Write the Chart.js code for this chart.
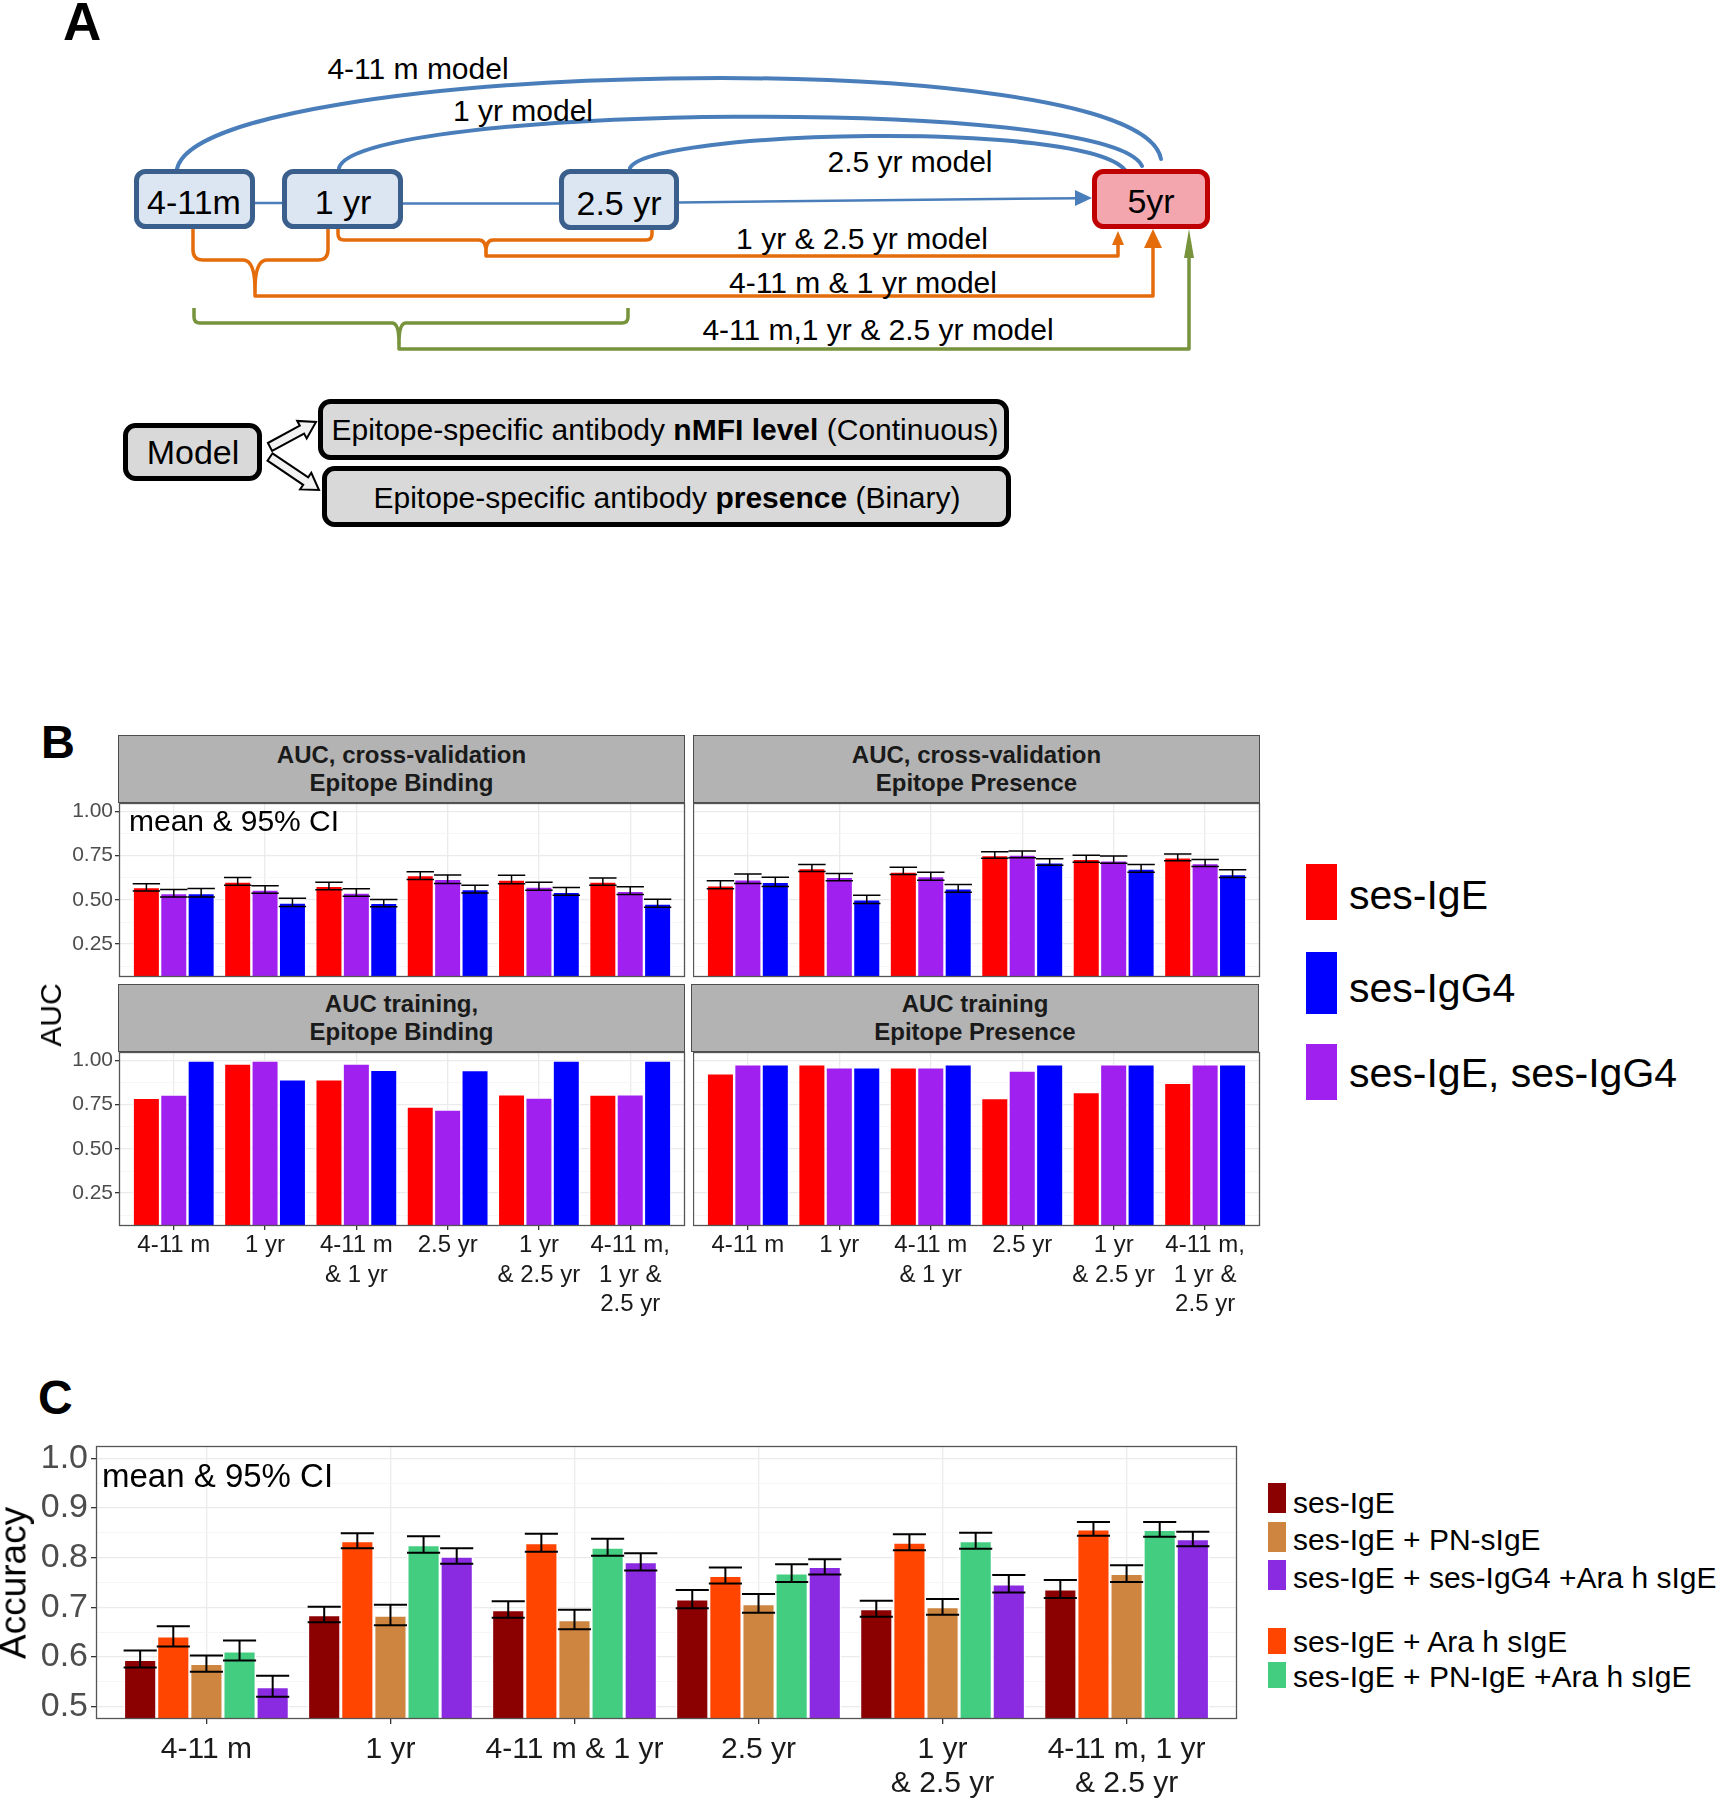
<!DOCTYPE html>
<html lang="en">
<head>
<meta charset="utf-8">
<title>Epitope models: AUC and accuracy</title>
<script src="https://cdn.jsdelivr.net/npm/chart.js@4.4.1/dist/chart.umd.min.js"></script>
<style>
  html, body { margin: 0; padding: 0; background: #fff; }
  body { position: relative; width: 1723px; height: 1800px; overflow: hidden;
         font-family: "Liberation Sans", Arial, sans-serif; color: #000; }
  .abs { position: absolute; white-space: nowrap; line-height: 1; }
  .mid { transform: translateY(-50%); }
  .tag { font-weight: bold; }
  .vlab { position: absolute; white-space: nowrap; line-height: 1; transform: translate(-50%, -50%) rotate(-90deg); }
  .strip { position: absolute; box-sizing: border-box; background: #B3B3B3; border: 1.5px solid #4D4D4D;
           display: flex; flex-direction: column; justify-content: center; align-items: center;
           font-weight: bold; font-size: 24px; line-height: 28px; color: #1A1A1A; }
  canvas { position: absolute; }
  .sw { position: absolute; }
</style>
</head>
<body>

<!-- Panel A: model diagram -->
<svg id="diagram" class="abs" style="left:0;top:0" width="1723" height="560" xmlns="http://www.w3.org/2000/svg"
     font-family="Liberation Sans, Arial, sans-serif">
  <g fill="none" stroke="#4A7EBB" stroke-width="4" stroke-linecap="round">
    <path d="M177,169 C200,60 1140,40 1161,159"/>
    <path d="M339,168 C355,105 1110,95 1142,166"/>
    <path d="M630,168 C650,130 1085,120 1125,170"/>
  </g>
  <g stroke="#4A7EBB" stroke-width="2.5">
    <line x1="255" y1="203" x2="282" y2="203"/>
    <line x1="403" y1="203.5" x2="559" y2="203.5"/>
    <line x1="679" y1="202.5" x2="1078" y2="198.2"/>
  </g>
  <polygon fill="#4A7EBB" points="1092,198 1075,190 1075,206"/>

  <g fill="none" stroke="#E46C0A" stroke-width="3.5" stroke-linejoin="round">
    <path d="M193,229 V250 Q193,260 203,260 H243 Q255,260 255,290 Q255,260 267,260 H318 Q328,260 328,250 V228"/>
    <path d="M255,290 V296 H1153 V244"/>
    <path d="M338,229 V234 Q338,240 344,240 H479 Q486,240 486,252 Q486,240 493,240 H646 Q652,240 652,234 V229"/>
    <path d="M486,252 V256 H1118 V243"/>
  </g>
  <polygon fill="#E46C0A" points="1118,231 1112,245 1124,245"/>
  <polygon fill="#E46C0A" points="1153,229 1144,248 1162,248"/>
  <g fill="none" stroke="#77933C" stroke-width="3.5" stroke-linejoin="round">
    <path d="M194,308 V317 Q194,323 200,323 H392 Q399,323 399,343 Q399,323 406,323 H622 Q628,323 628,317 V308"/>
    <path d="M399,343 V349 H1189 V255"/>
  </g>
  <polygon fill="#77933C" points="1189,229 1184,258 1194,258"/>

  <g stroke="#3B5F8C" stroke-width="5" fill="#DCE6F2">
    <rect x="136.5" y="171.5" width="116" height="55" rx="9"/>
    <rect x="284.5" y="171.5" width="116" height="55" rx="9"/>
    <rect x="561.5" y="171.5" width="115" height="56" rx="9"/>
  </g>
  <rect x="1094.5" y="171.5" width="113" height="55" rx="9" fill="#F4A6AE" stroke="#C00000" stroke-width="5"/>

  <g font-size="34" text-anchor="middle" dominant-baseline="central" fill="#000">
    <text x="194" y="202">4-11m</text>
    <text x="343" y="202">1 yr</text>
    <text x="619" y="203">2.5 yr</text>
    <text x="1151" y="201">5yr</text>
  </g>
  <g font-size="30" text-anchor="middle" dominant-baseline="central" fill="#000">
    <text x="418" y="68">4-11 m model</text>
    <text x="523" y="110">1 yr model</text>
    <text x="910" y="161">2.5 yr model</text>
    <text x="862" y="238">1 yr &amp; 2.5 yr model</text>
    <text x="863" y="282">4-11 m &amp; 1 yr model</text>
    <text x="878" y="329">4-11 m,1 yr &amp; 2.5 yr model</text>
  </g>

  <g fill="#D9D9D9" stroke="#000" stroke-width="5">
    <rect x="125.5" y="425.5" width="134" height="53" rx="10"/>
    <rect x="320.5" y="401.5" width="686" height="56" rx="10"/>
    <rect x="324.5" y="468.5" width="684" height="56" rx="10"/>
  </g>
  <g id="hollow" fill="#F2F2F2" stroke="#000" stroke-width="2" stroke-linejoin="miter"></g>
  <g text-anchor="middle" dominant-baseline="central" fill="#000">
    <text x="193" y="452" font-size="34">Model</text>
    <text x="665" y="429" font-size="30">Epitope-specific antibody <tspan font-weight="bold">nMFI level</tspan> (Continuous)</text>
    <text x="667" y="497" font-size="30">Epitope-specific antibody <tspan font-weight="bold">presence</tspan> (Binary)</text>
  </g>
</svg>
<div class="abs tag" style="left:63px;top:-5px;font-size:53px">A</div>

<!-- Panel B: AUC facets -->
<div class="abs tag" style="left:41px;top:718px;font-size:47px">B</div>
<canvas id="cvBind"></canvas>
<canvas id="cvPres"></canvas>
<canvas id="trBind"></canvas>
<canvas id="trPres"></canvas>
<div class="strip" style="left:118px;top:735px;width:567px;height:68px"><div>AUC, cross-validation</div><div>Epitope Binding</div></div>
<div class="strip" style="left:693px;top:735px;width:567px;height:68px"><div>AUC, cross-validation</div><div>Epitope Presence</div></div>
<div class="strip" style="left:118px;top:984px;width:567px;height:68px"><div>AUC training,</div><div>Epitope Binding</div></div>
<div class="strip" style="left:691px;top:984px;width:568px;height:68px"><div>AUC training</div><div>Epitope Presence</div></div>
<div class="abs mid" style="left:129px;top:821px;font-size:30px">mean &amp; 95% CI</div>
<div class="vlab" style="left:51px;top:1015px;font-size:30px">AUC</div>
<div id="legendB"></div>

<!-- Panel C: accuracy -->
<div class="abs tag" style="left:38px;top:1374px;font-size:48px">C</div>
<canvas id="accChart"></canvas>
<div class="abs mid" style="left:102px;top:1475px;font-size:33px">mean &amp; 95% CI</div>
<div class="vlab" style="left:13px;top:1583px;font-size:37px">Accuracy</div>
<div id="legendC"></div>

<script>
// --- DATA: panel B (AUC) ---
const groupsB = [['4-11 m'], ['1 yr'], ['4-11 m', '& 1 yr'], ['2.5 yr'], ['1 yr', '& 2.5 yr'], ['4-11 m,', '1 yr &', '2.5 yr']];
const namesB = ['ses-IgE', 'ses-IgE, ses-IgG4', 'ses-IgG4'];   // order of bars inside a group
const colorsB = ['#FF0000', '#A020F0', '#0000FF'];
const yTicksB = [0.25, 0.50, 0.75, 1.00];
const yMinorB = [0.125, 0.375, 0.625, 0.875];

// AUC, cross-validation, epitope binding (mean, lower, upper)
const cvBindIgE     = [0.572, 0.604, 0.580, 0.641, 0.615, 0.604];
const cvBindIgELo   = [0.550, 0.583, 0.557, 0.615, 0.591, 0.583];
const cvBindIgEHi   = [0.591, 0.626, 0.600, 0.659, 0.639, 0.624];
const cvBindBoth    = [0.539, 0.559, 0.541, 0.620, 0.576, 0.552];
const cvBindBothLo  = [0.517, 0.537, 0.520, 0.593, 0.554, 0.530];
const cvBindBothHi  = [0.559, 0.580, 0.563, 0.641, 0.600, 0.574];
const cvBindIgG4    = [0.539, 0.485, 0.483, 0.561, 0.546, 0.480];
const cvBindIgG4Lo  = [0.517, 0.463, 0.461, 0.539, 0.526, 0.459];
const cvBindIgG4Hi  = [0.565, 0.509, 0.502, 0.583, 0.570, 0.504];

// AUC, cross-validation, epitope presence
const cvPresIgE     = [0.583, 0.680, 0.661, 0.754, 0.733, 0.741];
const cvPresIgELo   = [0.563, 0.661, 0.643, 0.735, 0.713, 0.722];
const cvPresIgEHi   = [0.609, 0.700, 0.685, 0.772, 0.752, 0.759];
const cvPresBoth    = [0.617, 0.630, 0.635, 0.757, 0.724, 0.709];
const cvPresBothLo  = [0.593, 0.609, 0.611, 0.739, 0.707, 0.689];
const cvPresBothHi  = [0.646, 0.650, 0.657, 0.776, 0.748, 0.728];
const cvPresIgG4    = [0.602, 0.504, 0.565, 0.713, 0.678, 0.646];
const cvPresIgG4Lo  = [0.576, 0.480, 0.543, 0.696, 0.657, 0.626];
const cvPresIgG4Hi  = [0.628, 0.526, 0.587, 0.733, 0.700, 0.670];

// AUC training
const trBindIgE  = [0.789, 0.983, 0.893, 0.739, 0.809, 0.807];
const trBindBoth = [0.807, 1.000, 0.983, 0.722, 0.791, 0.809];
const trBindIgG4 = [1.000, 0.893, 0.948, 0.946, 1.000, 1.000];
const trPresIgE  = [0.928, 0.978, 0.961, 0.787, 0.822, 0.874];
const trPresBoth = [0.978, 0.961, 0.961, 0.943, 0.978, 0.978];
const trPresIgG4 = [0.978, 0.961, 0.978, 0.978, 0.978, 0.978];

// --- DATA: panel C (accuracy) ---
const groupsC = ['4-11 m', '1 yr', '4-11 m & 1 yr', '2.5 yr', ['1 yr', '& 2.5 yr'], ['4-11 m, 1 yr', '& 2.5 yr']];
const namesC = ['ses-IgE', 'ses-IgE + Ara h sIgE', 'ses-IgE + PN-sIgE', 'ses-IgE + PN-IgE +Ara h sIgE', 'ses-IgE + ses-IgG4 +Ara h sIgE'];
const colorsC = ['#8B0000', '#FF4500', '#CD853F', '#43CD80', '#8A2BE2'];
const legendOrderC = [0, 2, 4, 1, 3];
const yTicksC = [0.5, 0.6, 0.7, 0.8, 0.9, 1.0];
const yMinorC = [0.55, 0.65, 0.75, 0.85, 0.95];

const accIgE       = [0.595, 0.685, 0.695, 0.717, 0.697, 0.737];
const accIgELo     = [0.579, 0.670, 0.679, 0.698, 0.681, 0.719];
const accIgEHi     = [0.613, 0.701, 0.712, 0.735, 0.713, 0.755];
const accAra       = [0.642, 0.834, 0.830, 0.764, 0.831, 0.858];
const accAraLo     = [0.621, 0.819, 0.812, 0.748, 0.815, 0.844];
const accAraHi     = [0.662, 0.849, 0.848, 0.780, 0.847, 0.872];
const accPN        = [0.587, 0.684, 0.675, 0.707, 0.701, 0.768];
const accPNLo      = [0.570, 0.664, 0.656, 0.689, 0.685, 0.751];
const accPNHi      = [0.603, 0.705, 0.695, 0.727, 0.717, 0.785];
const accPNAra     = [0.612, 0.826, 0.821, 0.769, 0.834, 0.857];
const accPNAraLo   = [0.593, 0.810, 0.804, 0.751, 0.818, 0.842];
const accPNAraHi   = [0.633, 0.843, 0.838, 0.787, 0.850, 0.872];
const accIgG4Ara   = [0.540, 0.803, 0.792, 0.782, 0.747, 0.838];
const accIgG4AraLo = [0.520, 0.788, 0.774, 0.766, 0.730, 0.823];
const accIgG4AraHi = [0.562, 0.819, 0.809, 0.797, 0.765, 0.852];

// --- LAYOUT (plot areas, px) ---
const areas = {
    cvBind: {x: 119, y: 803, w: 566, h: 174},
    cvPres: {x: 693, y: 803, w: 567, h: 174},
    trBind: {x: 119, y: 1052, w: 566, h: 174},
    trPres: {x: 693, y: 1052, w: 567, h: 174},
    acc:    {x: 96, y: 1446, w: 1141, h: 273}
};

Chart.defaults.font.family = "'Liberation Sans', Arial, sans-serif";

// --- PLUGINS ---
const errorBars = {
    id: 'errorBars',
    afterDatasetsDraw(chart, args, opts) {
        const {ctx, chartArea: a, scales: {y}} = chart;
        ctx.save();
        ctx.beginPath();
        ctx.rect(a.left, a.top, a.width, a.height);
        ctx.clip();
        ctx.strokeStyle = '#000';
        ctx.lineWidth = opts.lineWidth;
        chart.data.datasets.forEach((ds, di) => {
            if (!ds.lo) return;
            chart.getDatasetMeta(di).data.forEach((bar, i) => {
                const half = bar.width / 2;
                const yl = y.getPixelForValue(ds.lo[i]);
                const yh = y.getPixelForValue(ds.hi[i]);
                ctx.beginPath();
                ctx.moveTo(bar.x, yl); ctx.lineTo(bar.x, yh);
                ctx.moveTo(bar.x - half, yl); ctx.lineTo(bar.x + half, yl);
                ctx.moveTo(bar.x - half, yh); ctx.lineTo(bar.x + half, yh);
                ctx.stroke();
            });
        });
        ctx.restore();
    }
};

const panelFrame = {
    id: 'panelFrame',
    afterDraw(chart) {
        const {ctx, chartArea: a} = chart;
        ctx.save();
        ctx.strokeStyle = '#555';
        ctx.lineWidth = 1.3;
        ctx.strokeRect(a.left + 0.5, a.top + 0.5, a.width - 1, a.height - 1);
        ctx.restore();
    }
};

// --- CHART BUILDER ---
function drawPanel(canvasId, area, o) {
    const cv = document.getElementById(canvasId);
    const w = o.yAxisW + area.w + o.padRight;
    const h = o.padTop + area.h + o.xAxisH + o.padBottom;
    cv.width = w; cv.height = h;
    cv.style.width = w + 'px'; cv.style.height = h + 'px';
    cv.style.left = (area.x - o.yAxisW) + 'px';
    cv.style.top = (area.y - o.padTop) + 'px';

    const key = v => v.toFixed(3);
    const major = new Set(o.yTicks.map(key));
    const isMajor = v => major.has(key(v));
    const allTicks = o.yTicks.concat(o.yMinor).sort((p, q) => p - q);

    return new Chart(cv, {
        type: 'bar',
        data: {
            datasets: o.series.map(s => ({
                label: s.name,
                data: s.mean.map((v, i) => ({x: i, y: v})),
                lo: s.lo,
                hi: s.hi,
                backgroundColor: s.color,
                borderColor: '#FFFFFF',
                borderWidth: o.barBorder,
                borderSkipped: 'bottom',
                categoryPercentage: 0.9,
                barPercentage: 1.0,
                clip: 0
            }))
        },
        options: {
            responsive: false,
            animation: false,
            devicePixelRatio: 1,
            layout: {autoPadding: false, padding: {top: o.padTop, right: o.padRight, left: 0, bottom: o.padBottom}},
            plugins: {
                legend: {display: false},
                tooltip: {enabled: false},
                errorBars: {lineWidth: o.errWidth}
            },
            scales: {
                x: {
                    type: 'linear',
                    min: -0.6,
                    max: o.groups.length - 0.4,
                    offset: false,
                    bounds: 'data',
                    afterBuildTicks: s => { s.ticks = o.groups.map((g, i) => ({value: i})); },
                    afterFit: s => { s.height = o.xAxisH; },
                    border: {display: false},
                    grid: {offset: false, color: '#EBEBEB', lineWidth: 1.3, drawTicks: o.showX,
                           tickLength: o.tickLen, tickColor: '#333333', tickWidth: 1.3},
                    ticks: {display: o.showX, autoSkip: false, maxRotation: 0, minRotation: 0,
                            padding: o.xPad, color: '#1A1A1A',
                            font: {size: o.xFont, lineHeight: o.xLine},
                            callback: v => o.groups[Math.round(v)]}
                },
                y: {
                    min: o.yMin,
                    max: o.yMax,
                    bounds: 'data',
                    beginAtZero: false,
                    afterBuildTicks: s => { s.ticks = allTicks.map(v => ({value: v})); },
                    afterFit: s => { s.width = o.yAxisW; },
                    border: {display: false},
                    grid: {
                        color: c => (c.tick && !isMajor(c.tick.value)) ? '#F4F4F4' : '#EBEBEB',
                        lineWidth: c => (c.tick && !isMajor(c.tick.value)) ? 0.8 : 1.3,
                        drawTicks: o.showY,
                        tickLength: o.tickLen,
                        tickColor: c => (c.tick && !isMajor(c.tick.value)) ? 'rgba(0,0,0,0)' : '#333333',
                        tickWidth: 1.3
                    },
                    ticks: {display: o.showY, autoSkip: false, padding: o.yPad, color: '#4D4D4D', font: {size: o.yFont},
                            callback: v => isMajor(v) ? v.toFixed(o.yDigits) : ''}
                }
            }
        },
        plugins: [errorBars, panelFrame]
    });
}

function seriesB(means, los, his) {
    return namesB.map((n, k) => ({name: n, color: colorsB[k], mean: means[k],
                                  lo: los ? los[k] : null, hi: his ? his[k] : null}));
}

const baseB = {groups: groupsB, yTicks: yTicksB, yMinor: yMinorB, yMin: 0.064, yMax: 1.048, yDigits: 2,
               padTop: 16, padRight: 4, yFont: 21, xFont: 24, xLine: 1.23, xPad: 1, yPad: 2,
               tickLen: 4, errWidth: 1.5, barBorder: 1.2};

// --- RENDER ---
drawPanel('cvBind', areas.cvBind, Object.assign({}, baseB, {
    yAxisW: 70, xAxisH: 0, padBottom: 16, showY: true, showX: false,
    series: seriesB([cvBindIgE, cvBindBoth, cvBindIgG4],
                    [cvBindIgELo, cvBindBothLo, cvBindIgG4Lo],
                    [cvBindIgEHi, cvBindBothHi, cvBindIgG4Hi])
}));
drawPanel('cvPres', areas.cvPres, Object.assign({}, baseB, {
    yAxisW: 0, xAxisH: 0, padBottom: 16, showY: false, showX: false,
    series: seriesB([cvPresIgE, cvPresBoth, cvPresIgG4],
                    [cvPresIgELo, cvPresBothLo, cvPresIgG4Lo],
                    [cvPresIgEHi, cvPresBothHi, cvPresIgG4Hi])
}));
drawPanel('trBind', areas.trBind, Object.assign({}, baseB, {
    yAxisW: 70, xAxisH: 100, padBottom: 0, showY: true, showX: true,
    series: seriesB([trBindIgE, trBindBoth, trBindIgG4])
}));
drawPanel('trPres', areas.trPres, Object.assign({}, baseB, {
    yAxisW: 0, xAxisH: 100, padBottom: 0, showY: false, showX: true,
    series: seriesB([trPresIgE, trPresBoth, trPresIgG4])
}));

drawPanel('accChart', areas.acc, {
    groups: groupsC, yTicks: yTicksC, yMinor: yMinorC, yMin: 0.475, yMax: 1.025, yDigits: 1,
    yAxisW: 96, xAxisH: 81, padTop: 24, padBottom: 0, padRight: 6, showY: true, showX: true,
    yFont: 34, xFont: 30, xLine: 1.15, xPad: 8, yPad: 3, tickLen: 5, errWidth: 2, barBorder: 1.5,
    series: [
        {name: namesC[0], color: colorsC[0], mean: accIgE,     lo: accIgELo,     hi: accIgEHi},
        {name: namesC[1], color: colorsC[1], mean: accAra,     lo: accAraLo,     hi: accAraHi},
        {name: namesC[2], color: colorsC[2], mean: accPN,      lo: accPNLo,      hi: accPNHi},
        {name: namesC[3], color: colorsC[3], mean: accPNAra,   lo: accPNAraLo,   hi: accPNAraHi},
        {name: namesC[4], color: colorsC[4], mean: accIgG4Ara, lo: accIgG4AraLo, hi: accIgG4AraHi}
    ]
});

// --- LEGENDS ---
function addSwatch(parent, color, x, y, w, h) {
    const d = document.createElement('div');
    d.className = 'sw';
    d.style.cssText = `left:${x}px;top:${y}px;width:${w}px;height:${h}px;background:${color};`;
    parent.appendChild(d);
}
function addText(parent, text, x, cy, size) {
    const d = document.createElement('div');
    d.className = 'abs mid';
    d.style.cssText = `left:${x}px;top:${cy}px;font-size:${size}px;`;
    d.textContent = text;
    parent.appendChild(d);
}

// B legend: ses-IgE, ses-IgG4, ses-IgE + ses-IgG4
const legB = document.getElementById('legendB');
const rowsB = [{k: 0, y: 864, h: 56, ty: 895}, {k: 2, y: 952, h: 62, ty: 988}, {k: 1, y: 1044, h: 56, ty: 1073}];
rowsB.forEach(r => {
    addSwatch(legB, colorsB[r.k], 1306, r.y, 31, r.h);
    addText(legB, namesB[r.k], 1349, r.ty, 41);
});

// C legend (two blocks)
const legC = document.getElementById('legendC');
const rowsCy = [{y: 1483, h: 30, ty: 1503}, {y: 1522, h: 30, ty: 1540}, {y: 1560, h: 30, ty: 1578},
                {y: 1628, h: 26, ty: 1642}, {y: 1662, h: 26, ty: 1677}];
legendOrderC.forEach((k, j) => {
    const r = rowsCy[j];
    addSwatch(legC, colorsC[k], 1268, r.y, 18, r.h);
    addText(legC, namesC[k], 1293, r.ty, 30);
});

// hollow block arrows in panel A
function hollowArrow(x0, y0, x1, y1) {
    const dx = x1 - x0, dy = y1 - y0, len = Math.hypot(dx, dy);
    const ux = dx / len, uy = dy / len, nx = -uy, ny = ux;
    const sw = 4.5, hw = 10, hl = 16;
    const bx = x1 - ux * hl, by = y1 - uy * hl;
    const pts = [[x0 - nx * sw, y0 - ny * sw], [bx - nx * sw, by - ny * sw], [bx - nx * hw, by - ny * hw],
                 [x1, y1], [bx + nx * hw, by + ny * hw], [bx + nx * sw, by + ny * sw], [x0 + nx * sw, y0 + ny * sw]];
    const p = document.createElementNS('http://www.w3.org/2000/svg', 'polygon');
    p.setAttribute('points', pts.map(q => q[0].toFixed(1) + ',' + q[1].toFixed(1)).join(' '));
    document.getElementById('hollow').appendChild(p);
}
hollowArrow(270, 447, 316, 422);
hollowArrow(270, 457, 319, 490);
</script>
</body>
</html>
